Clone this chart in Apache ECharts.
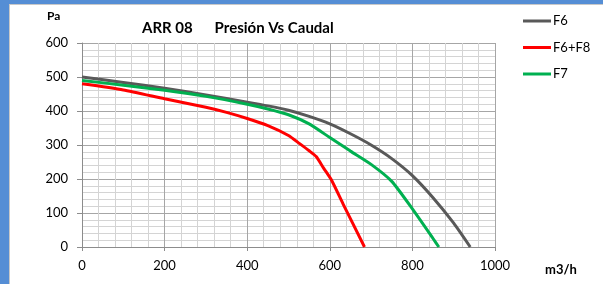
<!DOCTYPE html>
<html>
<head>
<meta charset="utf-8">
<script src="https://cdn.jsdelivr.net/npm/echarts@6/dist/echarts.min.js"></script>
<style>
html,body{margin:0;padding:0;background:#fff;}
#chart{width:603px;height:284px;}
</style>
</head>
<body>
<div id="chart"></div>
<script>
// ---- data ----
const seriesNames = ['F6', 'F6+F8', 'F7'];
const f6Flow      = [0, 100, 200, 300, 400, 450, 500, 550, 600, 650, 700, 750, 800, 850, 900, 940];
const f6Pressure  = [500, 484, 467, 447, 426, 415, 402, 384, 362, 333, 300, 260, 210, 145, 70, 0];
const f6f8Flow     = [0, 100, 200, 300, 350, 400, 450, 500, 527, 550, 567, 585, 604, 632, 684];
const f6f8Pressure = [480, 462, 436, 411, 396, 378, 357, 328, 304, 283, 266, 232, 197, 127, 0];
const f7Flow      = [0, 100, 200, 300, 400, 450, 500, 550, 600, 650, 700, 750, 800, 850, 864];
const f7Pressure  = [490, 476, 461, 443, 420, 406, 389, 362, 322, 282, 243, 193, 112, 25, 0];
const xTickValues = [0, 200, 400, 600, 800, 1000];
const yTickValues = [0, 100, 200, 300, 400, 500, 600];
const titleText = 'ARR 08      Presión Vs Caudal';
const yName = 'Pa';
const xName = 'm3/h';

const colors = ['#595959', '#ff0000', '#00b050'];
const font = 'Lato, "Open Sans", sans-serif';

function pairs(xs, ys) { return xs.map((x, i) => [x, ys[i]]); }

const chart = echarts.init(document.getElementById('chart'), null, {renderer: 'canvas'});
chart.setOption({
  animation: false,
  backgroundColor: '#ffffff',
  textStyle: {fontFamily: font},
  title: {
    text: titleText,
    left: 142, top: 21,
    padding: 0,
    textStyle: {fontSize: 15, fontWeight: 'bold', color: '#000', fontFamily: font}
  },
  legend: {
    orient: 'vertical',
    left: 523, top: 14,
    padding: 0,
    icon: 'rect',
    itemWidth: 28, itemHeight: 3, itemGap: 12.5,
    textStyle: {fontSize: 13, lineHeight: 14, height: 14, color: '#000', fontFamily: font, padding: [0, 0, 0, -3]},
    data: seriesNames
  },
  grid: {left: 82, right: 108, top: 43, bottom: 37, containLabel: false},
  xAxis: {
    type: 'value', min: xTickValues[0], max: xTickValues[xTickValues.length - 1], interval: 200,
    axisLine: {show: true, lineStyle: {color: '#8c8c8c', width: 1}},
    axisTick: {show: true, length: 4, lineStyle: {color: '#8c8c8c'}},
    axisLabel: {fontSize: 13, color: '#000', margin: 12, fontFamily: font, formatter: v => String(v)},
    splitLine: {show: true, lineStyle: {color: '#a6a6a6', width: 1}},
    minorTick: {show: false, splitNumber: 5},
    minorSplitLine: {show: true, lineStyle: {color: '#d4d4d4', width: 1}}
  },
  yAxis: {
    type: 'value', min: yTickValues[0], max: yTickValues[yTickValues.length - 1], interval: 100,
    axisLine: {show: true, lineStyle: {color: '#8c8c8c', width: 1}},
    axisTick: {show: true, length: 5, lineStyle: {color: '#8c8c8c'}},
    axisLabel: {fontSize: 13, color: '#000', margin: 14, fontFamily: font, formatter: v => String(v)},
    splitLine: {show: true, lineStyle: {color: '#a6a6a6', width: 1}},
    minorTick: {show: false, splitNumber: 5},
    minorSplitLine: {show: true, lineStyle: {color: '#d4d4d4', width: 1}}
  },
  series: [
    {name: seriesNames[0], type: 'line', data: pairs(f6Flow, f6Pressure), symbol: 'none', smooth: 0.2,
     lineStyle: {color: colors[0], width: 3}, itemStyle: {color: colors[0]}, z: 3},
    {name: seriesNames[1], type: 'line', data: pairs(f6f8Flow, f6f8Pressure), symbol: 'none', smooth: 0.2,
     lineStyle: {color: colors[1], width: 3}, itemStyle: {color: colors[1]}, z: 4},
    {name: seriesNames[2], type: 'line', data: pairs(f7Flow, f7Pressure), symbol: 'none', smooth: 0.2,
     lineStyle: {color: colors[2], width: 3}, itemStyle: {color: colors[2]}, z: 5}
  ],
  graphic: [
    {type: 'rect', shape: {x: 0, y: 0, width: 9, height: 284}, style: {fill: '#558ed5'}, silent: true},
    {type: 'rect', shape: {x: 0, y: 0, width: 603, height: 4}, style: {fill: '#558ed5'}, silent: true},
    {type: 'rect', shape: {x: 9, y: 4, width: 1, height: 280}, style: {fill: '#c8c8c8'}, silent: true},
    {type: 'rect', shape: {x: 9, y: 4, width: 594, height: 1}, style: {fill: '#c8c8c8'}, silent: true},
    {type: 'text', left: 47, top: 10, style: {text: yName, font: 'bold 12px ' + font, fill: '#000'}},
    {type: 'text', left: 545, top: 263, style: {text: xName, font: 'bold 13px ' + font, fill: '#000'}}
  ]
});
</script>
</body>
</html>
